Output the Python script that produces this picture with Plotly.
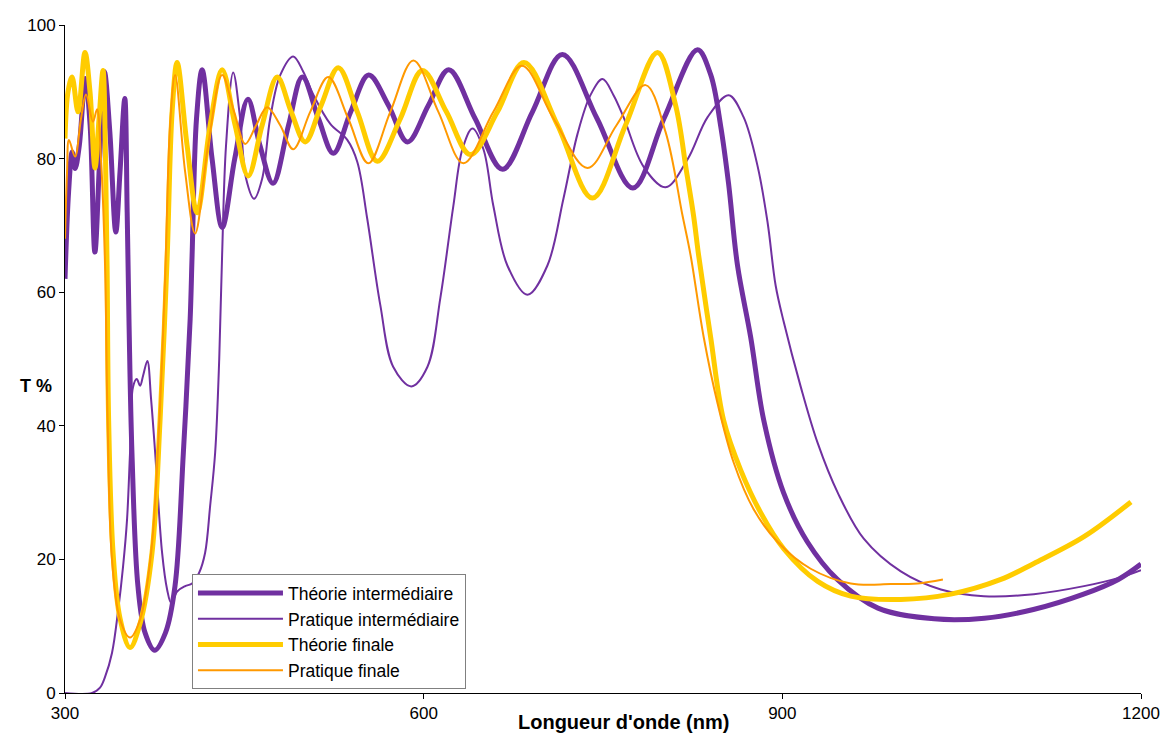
"""
Transmission spectra: intermediate vs final, theory vs measurement.
"""
import plotly.graph_objects as go

# ------------------------------------------------------------------ #
# Data
# ------------------------------------------------------------------ #
theo_int_nm = [300, 303, 306, 308.5, 312, 317, 321, 325, 329, 333, 337.5, 342.5, 346, 350,
               352, 353.6, 356, 361, 367, 375, 384, 392, 399, 404.7, 406.3, 410, 414.7, 423,
               431.5, 442, 453, 463, 474, 487, 498.5, 512, 524.5, 539, 554, 570.5, 586.5,
               604, 621, 643, 666, 691, 716, 745, 775, 801, 829, 840, 848.5, 855, 862.5,
               873.5, 884.5, 901, 921, 946, 980, 1027, 1069, 1110, 1152, 1181, 1200]
theo_int_t = [62, 75, 81, 78.5, 82, 92, 85, 66, 80, 93, 84, 69, 78, 89,
              72, 55, 36, 16, 9, 6.4, 9, 16, 36, 56, 65.5, 86, 93.3, 80,
              69.7, 80, 88.9, 82, 76.3, 85, 92.2, 86, 80.8, 87, 92.5, 88, 82.5,
              88, 93.3, 86, 78.4, 87, 95.6, 86, 75.6, 86, 96.3, 92.6, 84.8, 76.3, 64,
              53.3, 40.8, 30, 22.6, 17, 12.7, 11.1, 11.2, 12.5, 14.8, 17, 19.3]

prat_int_nm = [300, 322.6, 329.3, 333.5, 339.3, 344.4, 348.6, 351.9, 354.4, 356.9, 360, 362.8,
               365.3, 368.9, 372, 375.4, 381.2, 385.4, 388.8, 393.8, 400.5, 406.3, 412.2,
               417.2, 421.4, 425.6, 429, 431.4, 434.7, 440.7, 446.5, 451.5, 458.2, 464.9,
               471.6, 480, 490.9, 499.3, 507.6, 521.9, 536.1, 544.5, 552.8, 563.7, 574.6,
               589.7, 603.1, 614, 624.8, 632.4, 640.8, 650, 658.3, 670, 686.8, 703.5, 716.9,
               728.7, 739.5, 749.6, 758.8, 767.2, 783.9, 802.3, 820.8, 837.5, 855.1, 867.6,
               879.4, 887.7, 894.4, 901.1, 915.3, 929.6, 946.3, 968.1, 999.1, 1032.6,
               1068.6, 1110.4, 1152.3, 1180.7, 1200]
prat_int_t = [0, 0, 0.8, 2.4, 6, 12.3, 19, 26, 36, 45.8, 47, 46,
              47.5, 49.7, 44, 36, 21, 15.5, 13.5, 15.2, 16, 16.4, 18,
              21, 28, 36, 50, 65.5, 82, 92.9, 86, 77, 74, 77,
              86, 92.5, 95.3, 93, 89.6, 85.2, 82.8, 79.5, 71, 58.1, 48.8,
              45.9, 48.8, 59.2, 72.9, 81.4, 84.5, 81.4, 72.9, 64, 59.6, 64, 74,
              83.7, 89.5, 91.9, 89.5, 86.2, 78.8, 75.7, 79.9, 86.2, 89.5, 86.2,
              78.8, 70.4, 61, 55.6, 45.9, 37.4, 30, 23.1, 18.2, 15.5,
              14.5, 14.8, 16, 17.2, 18.4]

theo_fin_nm = [300, 302.5, 305.9, 310.9, 316.7, 320.9, 325.1, 328.5, 331.8, 333.9, 335.2,
               336.5, 340.2, 346, 354.4, 362.8, 372.8, 379.5, 385.4, 389.6, 393.8, 402.1,
               410.5, 421.4, 431.4, 442.3, 453.2, 464.9, 477.5, 489.2, 500.9, 514.3, 528.6,
               544.5, 561.2, 580.5, 598.9, 619, 639.1, 661.7, 683.9, 712, 741.2, 768.8,
               795.6, 810.7, 819.9, 825.8, 830, 840, 850.9, 865.1, 881.9, 901.1, 929.6,
               957.2, 999.1, 1040.9, 1082.8, 1110.4, 1152.3, 1191.6]
theo_fin_t = [83, 90, 92.2, 87, 95.9, 90, 78.6, 86, 93.2, 80, 64,
              40.8, 21, 11.2, 6.8, 10.4, 21, 40.8, 65, 87, 94.4, 82,
              71.9, 85, 93.3, 85, 77.4, 85, 92.2, 87, 82.5, 88, 93.6,
              87, 79.6, 86, 93.2, 87, 80.6, 87, 94.4, 85, 74.1, 85,
              95.9, 88, 78, 71.4, 65.5, 53.3, 40.8, 33.4, 27, 21.6, 16.7,
              14.5, 14, 14.8, 17, 19.4, 23.4, 28.6]

prat_fin_nm = [300, 301.7, 303.3, 308.4, 313.4, 317.6, 323.4, 326.8, 330.1, 333.5, 335.5,
               339.3, 346, 354.4, 362.8, 372, 378.7, 383.7, 387.9, 392.1, 400.5, 408.8,
               419.7, 431.4, 441.5, 450.7, 459.9, 469.1, 480, 490.9, 505.1, 520.2, 536.9,
               553.7, 572.1, 591.4, 612.3, 633.2, 658.3, 682.2, 708.6, 737, 761.3, 785.6,
               802.3, 816.6, 823.3, 834.2, 845.9, 859.3, 876, 896.1, 923.7, 957.2, 990.7,
               1013.3, 1034.3]
prat_fin_t = [68, 78, 82.8, 80.3, 86, 89.6, 85.5, 87.4, 80, 64, 42,
              20, 11, 8.3, 11, 21, 40, 62, 85, 92.5, 78, 68.8,
              82, 92.5, 87, 82.2, 85, 87.7, 85, 81.4, 87, 92.2, 86,
              79.3, 87, 94.7, 87, 79.3, 87, 93.9, 86, 78.6, 85, 91,
              84, 71.4, 65.5, 53.3, 43.3, 34.5, 27.5, 22.6, 18.6, 16.4, 16.3,
              16.4, 17]

series = [
    ("Théorie intermédiaire", theo_int_nm, theo_int_t, "#7030A0", 5),
    ("Pratique intermédiaire", prat_int_nm, prat_int_t, "#7030A0", 2),
    ("Théorie finale", theo_fin_nm, theo_fin_t, "#FFCC00", 5),
    ("Pratique finale", prat_fin_nm, prat_fin_t, "#FF9900", 2),
]

FONT = "Arial, Liberation Sans, sans-serif"

fig = go.Figure()
for name, xs, ys, color, width in series:
    fig.add_trace(
        go.Scatter(
            x=xs,
            y=ys,
            mode="lines",
            name=name,
            line=dict(color=color, width=width, shape="spline", smoothing=1.0),
        )
    )

axis_style = dict(
    showgrid=False,
    zeroline=False,
    showline=True,
    linecolor="black",
    linewidth=1,
    ticks="outside",
    ticklen=5,
    tickcolor="black",
    tickfont=dict(size=17),
    ticklabeloverflow="allow",
)

# the page body adds an 8px margin, so the figure is drawn 8px smaller
fig.update_layout(
    width=1160,
    height=727,
    margin=dict(l=57, r=27, t=8, b=42),
    paper_bgcolor="white",
    plot_bgcolor="white",
    font=dict(family=FONT, size=17, color="black"),
    showlegend=True,
    legend=dict(
        x=0.118,
        y=0.178,
        xanchor="left",
        yanchor="top",
        bgcolor="white",
        bordercolor="#808080",
        borderwidth=1,
        font=dict(family=FONT, size=17.5, color="black"),
        itemwidth=85,
    ),
    xaxis=dict(range=[300, 1200], tickvals=[300, 600, 900, 1200], **axis_style),
    yaxis=dict(range=[0, 100], tickvals=[0, 20, 40, 60, 80, 100], **axis_style),
    annotations=[
        dict(
            text="<b>T %</b>",
            xref="paper", yref="paper",
            x=-0.027, y=0.46,
            xanchor="center", yanchor="middle",
            showarrow=False,
            font=dict(family=FONT, size=18, color="black"),
        ),
        dict(
            text="<b>Longueur d'onde (nm)</b>",
            xref="paper", yref="paper",
            x=0.519, y=-0.043,
            xanchor="center", yanchor="middle",
            showarrow=False,
            font=dict(family=FONT, size=20, color="black"),
        ),
    ],
)

fig.write_html("out.html")
